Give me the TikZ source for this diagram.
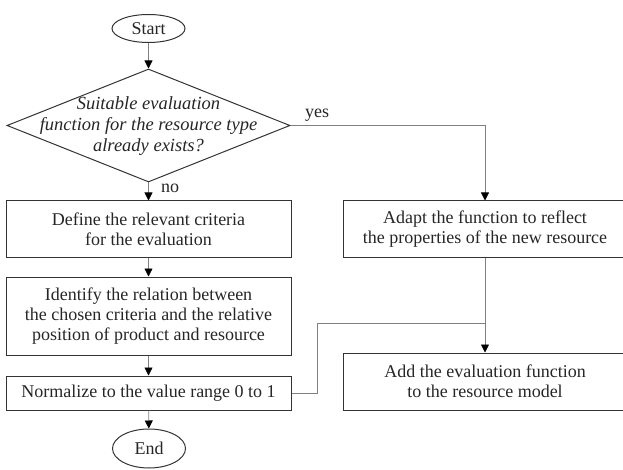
\documentclass[tikz,border=0pt]{standalone}
\usepackage{fontspec}
\setmainfont{Liberation Serif}
\usetikzlibrary{shapes.geometric,arrows.meta}
\begin{document}
\begin{tikzpicture}[x=1pt,y=-1pt,
  every node/.style={text=black!85},
  txt/.style={font=\fontsize{18}{20}\selectfont},
  terminal/.style={ellipse,draw=black!80,line width=1pt,minimum width=73pt,inner sep=0pt,txt},
  procbox/.style={rectangle,draw=black!80,line width=1pt,align=center,inner sep=0pt,txt},
  decision/.style={diamond,draw=black!80,line width=1pt,minimum width=283pt,minimum height=113pt,inner sep=0pt},
  flow/.style={draw=black!50,line width=0.8pt,-{Triangle[length=8pt,width=8pt,fill=black,color=black]}},
  joint/.style={draw=black!50,line width=0.8pt},
  lbl/.style={txt,inner sep=0pt}
]
\useasboundingbox (0,0) rectangle (623,470);
\begin{scope}
\clip (0,0) rectangle (623,470);

% left column
\node[terminal,minimum height=28pt] (start) at (148.5,28.5) {Start};
\node[decision] (dec) at (148.5,125.5) {};
\node[align=center,font=\fontsize{18.5}{21}\selectfont\itshape,inner sep=0pt] (dectext) at (148.5,126)
  {Suitable evaluation\\function for the resource type\\already exists?};
\node[procbox,minimum width=285pt,minimum height=56pt] (crit) at (148.5,229)
  {Define the relevant criteria\\for the evaluation};
\node[procbox,minimum width=285pt,minimum height=78pt] (rel) at (148.5,316)
  {Identify the relation between\\the chosen criteria and the relative\\position of product and resource};
\node[procbox,minimum width=285pt,minimum height=34pt] (norm) at (148.5,393)
  {Normalize to the value range 0 to 1};
\node[terminal,minimum height=39pt] (end) at (149,448.5) {End};

% right column
\node[procbox,minimum width=283pt,minimum height=56pt] (adapt) at (485,229)
  {Adapt the function to reflect\\the properties of the new resource};
\node[procbox,minimum width=283pt,minimum height=57pt] (add) at (485,381.5)
  {Add the evaluation function\\to the resource model};

% connectors
\path[flow] (start) -- (dec.north);
\path[flow] (dec.south) -- (crit.north);
\node[lbl,anchor=west] (no) at (161,188) {no};
\path[flow] (crit) -- (rel);
\path[flow] (rel) -- (norm);
\path[flow] (norm) -- (end);

\coordinate (yesturn) at (485,125.5);
\path[flow] (dec.east) -- (yesturn) -- (adapt.north);
\node[lbl,anchor=base west] (yes) at (305,118) {yes};
\path[flow] (adapt) -- (add);

\coordinate (merge) at (485,323);
\path[joint] (norm.east) -- ++(26,0) |- (merge);
\end{scope}
\end{tikzpicture}
\end{document}
